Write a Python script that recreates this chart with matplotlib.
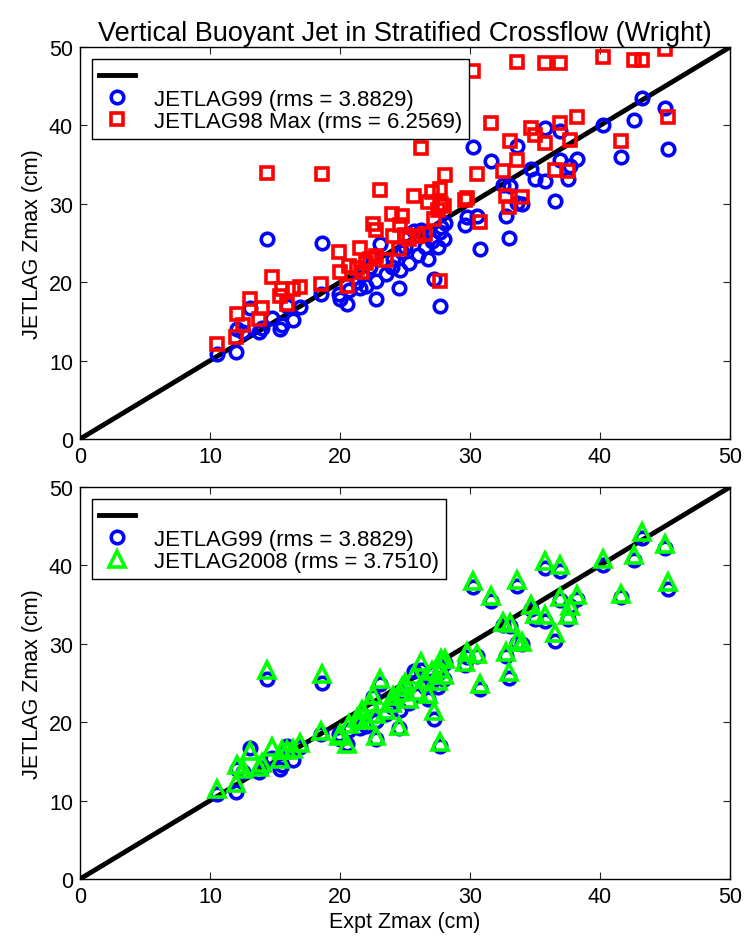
import matplotlib
matplotlib.use('Agg')
import matplotlib.pyplot as plt
import numpy as np

plt.rcParams['font.family'] = ['Liberation Sans', 'DejaVu Sans']

expt_zmax = [10.5, 12.0, 12.1, 12.5, 13.1, 13.8, 14.0, 14.4, 14.8, 15.4,
             15.5, 15.9, 16.4, 16.9, 18.5, 18.6, 19.9, 20.0, 20.5, 20.7,
             21.3, 21.5, 21.7, 22.0, 22.3, 22.5, 22.8, 22.8, 23.1, 23.5,
             24.0, 24.1, 24.5, 24.6, 24.8, 25.0, 25.3, 25.7, 26.0, 26.2,
             26.5, 26.8, 27.1, 27.2, 27.5, 27.7, 27.7, 27.8, 28.0, 28.1,
             29.6, 29.8, 30.2, 30.5, 30.8, 31.6, 32.5, 32.8, 33.0, 33.1,
             33.6, 33.6, 34.0, 34.7, 35.0, 35.8, 35.8, 36.5, 36.9, 36.9,
             37.5, 37.7, 38.2, 40.2, 41.6, 42.6, 43.2, 45.0, 45.2]
jetlag99 = [10.8, 11.1, 14.0, 13.6, 16.7, 13.6, 14.2, 25.5, 15.4, 14.0,
            14.5, 17.0, 15.2, 16.8, 18.5, 25.0, 18.5, 17.8, 17.2, 19.0,
            20.0, 19.3, 21.0, 19.5, 22.0, 23.2, 17.9, 20.2, 24.9, 21.0,
            22.0, 23.0, 19.2, 21.5, 23.8, 24.5, 22.5, 26.5, 23.5, 26.6,
            24.5, 23.0, 25.3, 20.4, 24.5, 17.0, 26.4, 27.0, 25.5, 27.6,
            27.3, 28.3, 37.3, 28.5, 24.2, 35.5, 32.4, 28.5, 25.7, 32.3,
            37.4, 30.1, 30.0, 34.5, 33.2, 32.9, 39.7, 30.4, 35.6, 39.3,
            33.2, 34.8, 35.7, 40.0, 36.0, 40.7, 43.5, 42.2, 37.0]
jetlag2008 = [11.5, 12.2, 14.6, 14.0, 16.3, 14.3, 14.8, 26.6, 16.8, 15.3,
              16.5, 16.5, 16.6, 17.3, 18.9, 26.1, 18.2, 18.5, 17.2, 19.8,
              20.5, 20.3, 21.5, 20.3, 22.5, 23.5, 18.3, 21.0, 25.5, 21.5,
              22.5, 23.4, 19.5, 23.8, 24.5, 25.0, 23.0, 26.0, 24.0, 27.7,
              25.5, 23.6, 26.5, 21.4, 25.2, 17.5, 26.8, 28.0, 26.0, 28.1,
              27.7, 28.9, 38.0, 28.7, 24.9, 36.1, 32.8, 29.0, 26.4, 32.7,
              38.1, 30.5, 30.2, 35.0, 33.8, 33.7, 40.6, 31.4, 36.0, 40.1,
              33.7, 34.8, 36.2, 40.8, 36.3, 41.3, 44.3, 42.7, 37.9]
jetlag98_max = [12.1, 13.0, 15.9, 14.5, 17.8, 15.3, 16.7, 33.9, 20.6, 18.2,
                19.1, 17.2, 19.1, 19.4, 19.8, 33.8, 23.8, 21.3, 19.5, 22.1,
                21.8, 24.4, 21.3, 22.5, 23.0, 27.4, 23.3, 26.6, 31.8, 22.8,
                28.7, 25.9, 24.2, 27.3, 28.4, 26.0, 25.5, 31.0, 25.9, 37.1,
                26.2, 30.2, 31.5, 28.0, 29.2, 20.1, 31.9, 30.0, 29.7, 33.7,
                30.5, 30.7, 46.9, 33.8, 27.7, 40.3, 34.2, 31.0, 29.6, 38.0,
                48.1, 35.6, 30.9, 39.7, 38.8, 37.8, 48.0, 34.3, 40.3, 48.0,
                34.2, 38.1, 41.1, 48.7, 38.0, 48.3, 48.3, 49.7, 41.1]

label99 = 'JETLAG99 (rms = 3.8829)'
label98 = 'JETLAG98 Max (rms = 6.2569)'
label08 = 'JETLAG2008 (rms = 3.7510)'
axis_lim = [0, 50]
ticks = [0, 10, 20, 30, 40, 50]

FS = 15.5

fig = plt.figure(figsize=(7.5, 9.45), dpi=100)
ax1 = fig.add_axes([0.1067, 0.5344, 0.8667, 0.4148])
ax2 = fig.add_axes([0.1067, 0.0688, 0.8667, 0.4148])

circ = dict(marker='o', ms=9, mew=2.6, mfc='none', mec='#0000ff', ls='none')
sq = dict(marker='s', ms=9, mew=2.6, mfc='none', mec='#ff0000', ls='none')
tri = dict(marker='^', ms=11, mew=2.6, mfc='none', mec='#00ff00', ls='none')


def style_axes(ax):
    ax.set_xlim(axis_lim)
    ax.set_ylim(axis_lim)
    ax.set_xticks(ticks)
    ax.set_yticks(ticks)
    ax.tick_params(direction='in', top=True, right=True, labelsize=FS,
                   length=5, width=0.8, colors='#222222', pad=5)
    ax.tick_params(labelcolor='black')
    for s in ax.spines.values():
        s.set_linewidth(1.0)
    ax.set_ylabel('JETLAG Zmax (cm)', fontsize=FS, labelpad=4)


def add_legend(ax, handles, labels):
    leg = ax.legend(handles, labels, loc='upper left', fancybox=False,
                    edgecolor='black', fontsize=16, borderaxespad=0.55,
                    handlelength=1.6, handletextpad=0.85, labelspacing=0.06,
                    borderpad=0.32, framealpha=1)
    leg.get_frame().set_linewidth(1.0)
    return leg


# top panel
one1, = ax1.plot(axis_lim, axis_lim, color='black', lw=3.5)
h99, = ax1.plot(expt_zmax, jetlag99, **circ)
h98, = ax1.plot(expt_zmax, jetlag98_max, **sq)
style_axes(ax1)
ax1.set_title('Vertical Buoyant Jet in Stratified Crossflow (Wright)',
              fontsize=19.5, pad=5)
add_legend(ax1, [one1, h99, h98], ['', label99, label98])

# bottom panel
one2, = ax2.plot(axis_lim, axis_lim, color='black', lw=3.5)
g99, = ax2.plot(expt_zmax, jetlag99, **circ)
g08, = ax2.plot(expt_zmax, jetlag2008, **tri)
style_axes(ax2)
ax2.set_xlabel('Expt Zmax (cm)', fontsize=FS, labelpad=3)
add_legend(ax2, [one2, g99, g08], ['', label99, label08])

plt.savefig('out.png', dpi=100)
plt.close()
